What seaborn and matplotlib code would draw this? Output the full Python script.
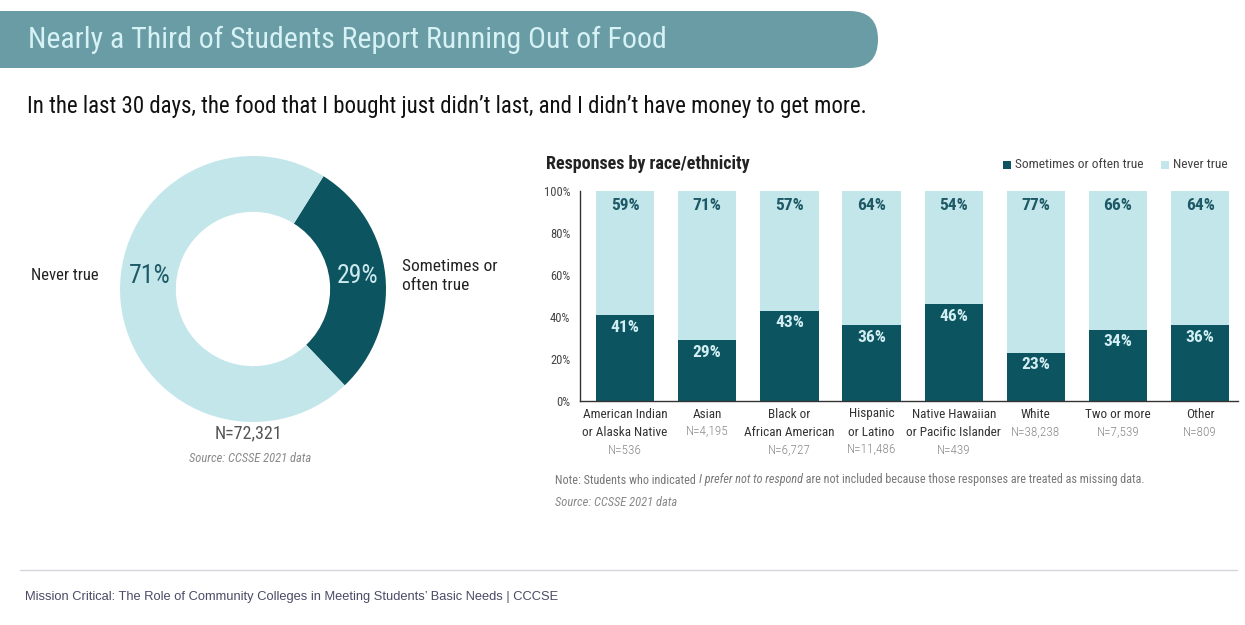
import matplotlib
matplotlib.use("Agg")
import matplotlib.pyplot as plt
from matplotlib.patches import FancyBboxPatch, Rectangle
from matplotlib.transforms import blended_transform_factory
import seaborn as sns

# ---- data ----
donut_labels = ["Sometimes or often true", "Never true"]
donut_values = [29, 71]
donut_n = "N=72,321"

categories = ["American Indian\nor Alaska Native", "Asian", "Black or\nAfrican American",
              "Hispanic\nor Latino", "Native Hawaiian\nor Pacific Islander", "White",
              "Two or more", "Other"]
n_labels = ["N=536", "N=4,195", "N=6,727", "N=11,486", "N=439", "N=38,238", "N=7,539", "N=809"]
sometimes = [41, 29, 43, 36, 46, 23, 34, 36]
never = [59, 71, 57, 64, 54, 77, 66, 64]
y_ticks = [0, 20, 40, 60, 80, 100]
y_ticklabels = ["0%", "20%", "40%", "60%", "80%", "100%"]

DARK = "#0C5460"
LIGHT = "#C3E6EB"
BANNER = "#6A9CA6"
TITLE_C = "#D6F2F5"

sns.set_theme(style="white")
COND = ["Roboto Condensed", "DejaVu Sans"]
plt.rcParams["font.family"] = COND

W, H = 1245, 625
fig = plt.figure(figsize=(W / 100, H / 100), dpi=100)
fig.patch.set_facecolor("white")

# background axes (shapes) and foreground axes (texts), both in pixel coordinates
bg = fig.add_axes([0, 0, 1, 1], zorder=-1)
fg = fig.add_axes([0, 0, 1, 1], zorder=10)
for a in (bg, fg):
    a.set_xlim(0, W)
    a.set_ylim(H, 0)
    a.axis("off")
    a.set_facecolor("none")

bg.add_patch(FancyBboxPatch((-100, 11), 978, 57,
                            boxstyle="round,pad=0,rounding_size=28.5",
                            facecolor=BANNER, edgecolor="none"))
fg.text(28, 40, "Nearly a Third of Students Report Running Out of Food",
        color=TITLE_C, fontsize=21.5, va="center", ha="left")
fg.text(27, 107, "In the last 30 days, the food that I bought just didn\u2019t last, and I didn\u2019t have money to get more.",
        color="#111111", fontsize=16.5, va="center", ha="left")

# ---- donut ----
cx, cy, r = 253, 289, 133
half = 150
dax = fig.add_axes([(cx - half) / W, (H - cy - half) / H, 2 * half / W, 2 * half / H])
dax.pie(donut_values, colors=[DARK, LIGHT], startangle=58, counterclock=False,
        radius=1, wedgeprops=dict(width=0.42, edgecolor="none"))
lim = half / r
dax.set_xlim(-lim, lim)
dax.set_ylim(-lim, lim)
dax.set_aspect("equal")
dax.axis("off")

fg.text(150, 276, f"{donut_values[1]}%", color="#1E5A66", fontsize=18.5, ha="center", va="center")
fg.text(358, 276, f"{donut_values[0]}%", color="#CDEBEF", fontsize=18.5, ha="center", va="center")
fg.text(99, 276, "Never true", color="#222222", fontsize=12, ha="right", va="center")
fg.text(402, 276, "Sometimes or\noften true", color="#222222", fontsize=12.5, ha="left", va="center",
        linespacing=1.35)
fg.text(248, 433, donut_n, color="#555555", fontsize=13, ha="center", va="center")
fg.text(250, 459, "Source: CCSSE 2021 data", color="#888888", fontsize=9, ha="center",
        va="center", style="italic")

# ---- stacked bars ----
ax_l, ax_r, ax_t, ax_b = 580, 1238, 191, 401
ax = fig.add_axes([ax_l / W, (H - ax_b) / H, (ax_r - ax_l) / W, (ax_b - ax_t) / H])
ax.set_facecolor("none")
xpos = list(range(len(categories)))
totals = [s + n for s, n in zip(sometimes, never)]
sns.barplot(x=xpos, y=totals, color=LIGHT, saturation=1, width=0.71, ax=ax, edgecolor="none")
sns.barplot(x=xpos, y=sometimes, color=DARK, saturation=1, width=0.71, ax=ax, edgecolor="none")
ax.set_ylim(0, 100)
ax.set_xlim(-0.548, 7.46)
ax.set_yticks(y_ticks)
ax.set_yticklabels(y_ticklabels, fontsize=9, color="#444444")
ax.tick_params(axis="y", length=0, pad=7)
ax.set_xticks([])
ax.set_xlabel("")
ax.set_ylabel("")
for side in ["top", "right"]:
    ax.spines[side].set_visible(False)
for side in ["left", "bottom"]:
    ax.spines[side].set_visible(True)
    ax.spines[side].set_color("#333333")
    ax.spines[side].set_linewidth(1)
ax.grid(False)

for i, (s, n) in enumerate(zip(sometimes, never)):
    ax.text(i, 93, f"{n}%", color="#1E5A66", fontsize=12.5, fontweight="bold",
            ha="center", va="center")
    ax.text(i, s - 5.8, f"{s}%", color="#D2EEF2", fontsize=12.5, fontweight="bold",
            ha="center", va="center")

# category labels
tr = blended_transform_factory(ax.transData, fg.transData)
for i, (c, nl) in enumerate(zip(categories, n_labels)):
    lines = c.split("\n")
    for j, ln in enumerate(lines):
        fg.text(i, 414 + 18 * j, ln, transform=tr, color="#333333", fontsize=9.5,
                ha="center", va="center")
    fg.text(i, 414 + 18 * len(lines), nl, transform=tr, color="#8A8A8A", fontsize=9.5,
            fontweight="light", ha="center", va="center")

fg.text(546, 164, "Responses by race/ethnicity", color="#222222", fontsize=13,
        fontweight="bold", ha="left", va="center")
bg.add_patch(Rectangle((1003, 161), 8, 8, facecolor=DARK, edgecolor="none"))
fg.text(1015, 165, "Sometimes or often true", color="#444444", fontsize=9.7, ha="left", va="center")
bg.add_patch(Rectangle((1161, 161), 8, 8, facecolor=LIGHT, edgecolor="none"))
fg.text(1173, 165, "Never true", color="#444444", fontsize=9.7, ha="left", va="center")

# note with italic fragment
note_parts = [("Note: Students who indicated ", "normal"), ("I prefer not to respond", "italic"),
              (" are not included because those responses are treated as missing data.", "normal")]
fig.canvas.draw()
renderer = fig.canvas.get_renderer()
x0 = 555
for txt, st in note_parts:
    t = fg.text(x0, 480, txt, color="#777777", fontsize=8.7, ha="left", va="center", style=st)
    bb = t.get_window_extent(renderer=renderer)
    x0 += bb.width
fg.text(555, 503, "Source: CCSSE 2021 data", color="#888888", fontsize=9, ha="left",
        va="center", style="italic")

# footer
bg.plot([20, 1237], [570, 570], color="#D5D5DD", lw=1)
fg.text(25, 597, "Mission Critical: The Role of Community Colleges in Meeting Students\u2019 Basic Needs | CCCSE",
        color="#4A4A66", fontsize=9.3, ha="left", va="center", family=["Liberation Sans", "DejaVu Sans"])

fig.savefig("out.png", dpi=100, facecolor="white")
